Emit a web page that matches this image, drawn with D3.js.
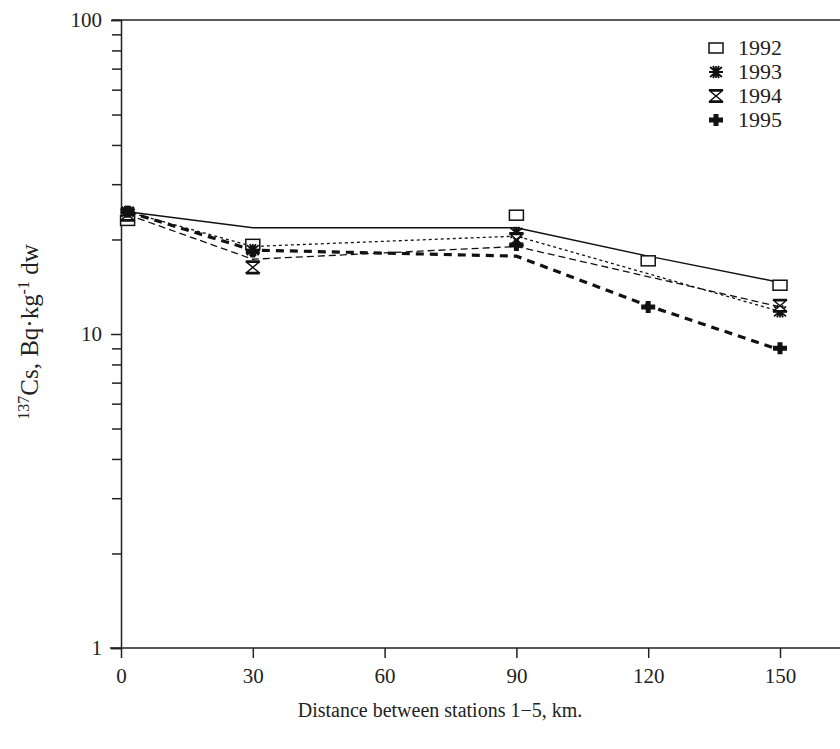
<!DOCTYPE html>
<html>
<head>
<meta charset="utf-8">
<script src="https://cdn.jsdelivr.net/npm/d3@7"></script>
<style>
  body { margin: 0; background: #fff; }
  svg text { font-family: "Liberation Serif", "DejaVu Serif", serif; fill: #222; }
</style>
</head>
<body>
<div id="chart"></div>
<script>
const years = ["1992", "1993", "1994", "1995"];
const dist92 = [1.5, 30, 90, 120, 150];
const pts92 = [23, 19.3, 23.9, 17.1, 14.3];
const dist93 = [1.5, 30, 90, 150];
const pts93 = [24.5, 18.5, 21, 11.8];
const dist94 = [1.5, 30, 90, 150];
const pts94 = [24, 16.3, 20, 12.3];
const dist95 = [1.5, 30, 90, 120, 150];
const pts95 = [24.5, 18.3, 19.2, 12.2, 9.0];

// trend lines drawn in the figure (they don't go through every point)
const lineDist92 = [1.5, 30, 90, 120, 150];
const line92 = [24.5, 21.8, 21.8, 17.7, 14.6];
const lineDist93 = [1.5, 30, 90, 150];
const line93 = [24.5, 19, 20.5, 11.8];
const lineDist94 = [1.5, 30, 90, 150];
const line94 = [24, 17.3, 19, 12.2];
const lineDist95 = [1.5, 30, 90, 120, 150];
const line95 = [24.5, 18.5, 17.7, 12.3, 8.9];

const xTicks = [0, 30, 60, 90, 120, 150];
const yMajor = [1, 10, 100];
const yMinor = [2, 3, 4, 5, 6, 7, 8, 9, 20, 30, 40, 50, 60, 70, 80, 90];

const width = 840, height = 749;

const svg = d3.select('#chart').append('svg')
  .attr('width', width)
  .attr('height', height);

const x = d3.scaleLinear().domain([0, 150]).range([121, 780]);
const y = d3.scaleLog().domain([1, 100]).range([648, 20]);

// frame lines: top and bottom run off to the right edge
svg.append('line')
  .attr('x1', 112).attr('x2', width)
  .attr('y1', y(100)).attr('y2', y(100))
  .attr('stroke', '#222').attr('stroke-width', 1.5);

// y axis
const yAxis = svg.append('g')
  .attr('transform', 'translate(' + x(0) + ',0)')
  .call(d3.axisLeft(y).tickValues(yMajor).tickFormat(d3.format('d')).tickSize(10).tickPadding(9));
svg.append('g')
  .attr('transform', 'translate(' + x(0) + ',0)')
  .call(d3.axisLeft(y).tickValues(yMinor).tickFormat('').tickSize(9))
  .select('.domain').remove();

// x axis
const xAxis = svg.append('g')
  .attr('transform', 'translate(0,' + y(1) + ')')
  .call(d3.axisBottom(x).tickValues(xTicks).tickSize(10).tickPadding(10));
xAxis.select('.domain').remove();
svg.append('line')
  .attr('x1', 110).attr('x2', width)
  .attr('y1', y(1)).attr('y2', y(1))
  .attr('stroke', '#222').attr('stroke-width', 1.5);

svg.selectAll('.tick line').attr('stroke', '#222').attr('stroke-width', 1.5);
yAxis.select('.domain').attr('stroke', '#222').attr('stroke-width', 1.5);
svg.selectAll('.tick text')
  .attr('font-size', 21)
  .attr('font-family', '"Liberation Serif", serif')
  .attr('fill', '#222');

// axis titles
svg.append('text')
  .attr('x', 440).attr('y', 717)
  .attr('text-anchor', 'middle')
  .attr('font-size', 20)
  .text('Distance between stations 1\u22125, km.');

const yt = svg.append('text')
  .attr('transform', 'translate(38,332) rotate(-90)')
  .attr('text-anchor', 'middle')
  .attr('font-size', 25);
yt.append('tspan').attr('font-size', 16).attr('dy', -9).text('137');
yt.append('tspan').attr('dy', 9).text('Cs, Bq\u00b7kg');
yt.append('tspan').attr('font-size', 16).attr('dy', -9).text('-1');
yt.append('tspan').attr('dy', 9).text(' dw');

// lines
const line = d3.line()
  .x(function(d) { return x(d[0]); })
  .y(function(d) { return y(d[1]); });

const lineSets = [
  { d: d3.zip(lineDist92, line92), w: 1.5, dash: null },
  { d: d3.zip(lineDist93, line93), w: 1.3, dash: '3,3' },
  { d: d3.zip(lineDist94, line94), w: 1.3, dash: '7,4' },
  { d: d3.zip(lineDist95, line95), w: 3.2, dash: '8,6' }
];

lineSets.forEach(function(s) {
  svg.append('path')
    .datum(s.d)
    .attr('d', line)
    .attr('fill', 'none')
    .attr('stroke', '#111')
    .attr('stroke-width', s.w)
    .attr('stroke-dasharray', s.dash);
});

// marker shapes
function drawMarker(g, year) {
  if (year === '1992') {
    g.append('rect')
      .attr('x', -7).attr('y', -5).attr('width', 14).attr('height', 10)
      .attr('fill', '#fff').attr('stroke', '#111').attr('stroke-width', 1.5);
  } else if (year === '1993') {
    g.append('path')
      .attr('d', 'M-7,0H7M0,-6V6M-6,-5L6,5M-6,5L6,-5M-3,-6L3,6M3,-6L-3,6')
      .attr('stroke', '#111').attr('stroke-width', 1.8).attr('fill', 'none');
  } else if (year === '1994') {
    g.append('path')
      .attr('d', 'M-6,-5H6L0,0ZM-6,5H6L0,0Z')
      .attr('fill', '#fff').attr('stroke', '#111').attr('stroke-width', 1.4);
    g.append('path')
      .attr('d', 'M-7,-6H7M-7,6H7')
      .attr('stroke', '#111').attr('stroke-width', 2.2);
  } else {
    g.append('path')
      .attr('d', 'M-2.5,-6H2.5V-2.5H7V2.5H2.5V6H-2.5V2.5H-7V-2.5H-2.5Z')
      .attr('fill', '#111');
  }
}

const pointSets = [
  { year: '1992', d: d3.zip(dist92, pts92) },
  { year: '1993', d: d3.zip(dist93, pts93) },
  { year: '1994', d: d3.zip(dist94, pts94) },
  { year: '1995', d: d3.zip(dist95, pts95) }
];

pointSets.forEach(function(s) {
  svg.append('g').selectAll('g')
    .data(s.d)
    .enter()
    .append('g')
    .attr('transform', function(d) { return 'translate(' + x(d[0]) + ',' + y(d[1]) + ')'; })
    .each(function() { drawMarker(d3.select(this), s.year); });
});

// legend
const legend = svg.append('g').attr('transform', 'translate(716,48)');
years.forEach(function(yr, i) {
  const row = legend.append('g').attr('transform', 'translate(0,' + (i * 24) + ')');
  drawMarker(row, yr);
  row.append('text')
    .attr('x', 22).attr('y', 7)
    .attr('font-size', 22)
    .text(yr);
});
</script>
</body>
</html>
